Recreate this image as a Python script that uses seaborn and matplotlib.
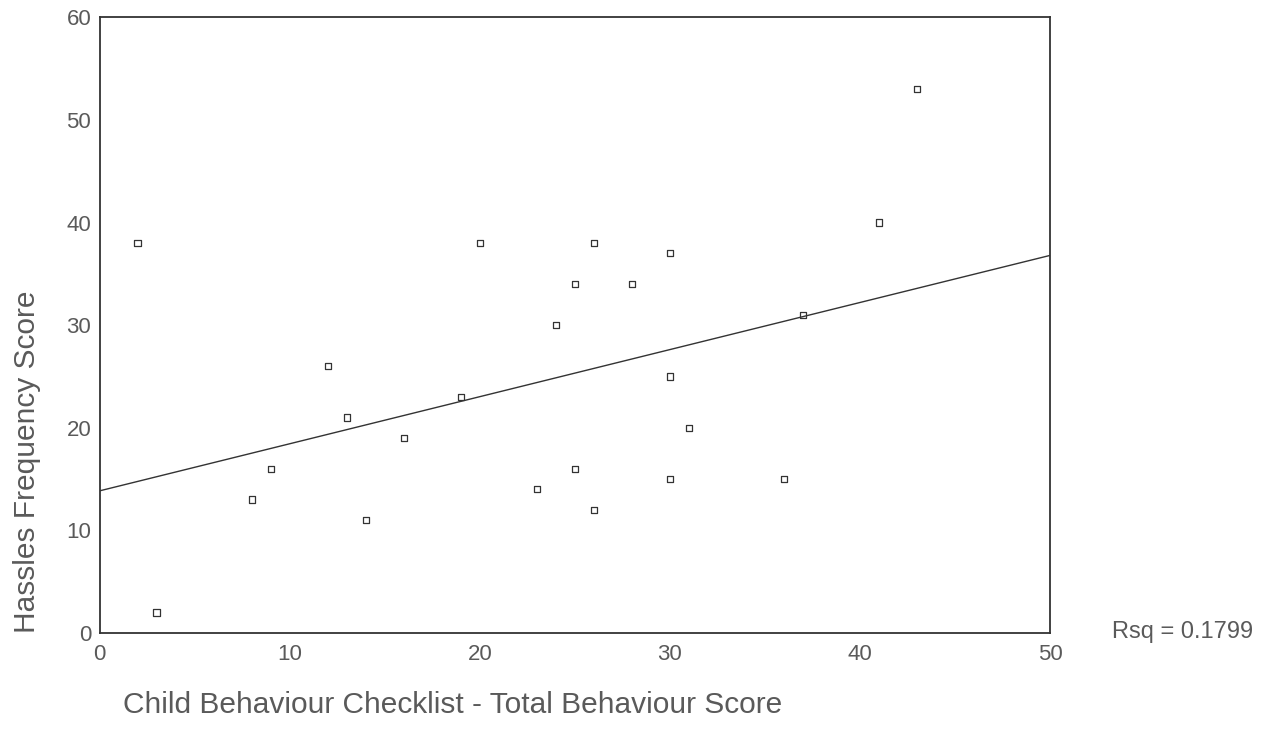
import matplotlib
matplotlib.use("Agg")
import matplotlib.pyplot as plt
import seaborn as sns
import pandas as pd

# scores
cbcl_total = [2, 3, 8, 9, 12, 13, 14, 16, 19, 20, 23, 24, 25, 25, 26, 26, 28,
              30, 30, 30, 31, 36, 37, 41, 43]
hassles_freq = [38, 2, 13, 16, 26, 21, 11, 19, 23, 38, 14, 30, 34, 16, 38, 12, 34,
                37, 25, 15, 20, 15, 31, 40, 53]
# fitted line as printed on the chart
fit_intercept = 13.85
fit_slope = 0.459
x_ticks = [0, 10, 20, 30, 40, 50]
y_ticks = [0, 10, 20, 30, 40, 50, 60]
rsq_label = "Rsq = 0.1799"

df = pd.DataFrame({"cbcl": cbcl_total, "hassles": hassles_freq})

sns.set_style("white")
plt.rcParams["font.family"] = ["Liberation Sans", "DejaVu Sans"]

txt = "#5a5a5a"
ink = "#333333"

fig = plt.figure(figsize=(12.76, 7.54), dpi=100)
ax = fig.add_axes([0.078, 0.1605, 0.745, 0.8165])
ax.set_xlim(0, 50)
ax.set_ylim(0, 60)

sns.scatterplot(data=df, x="cbcl", y="hassles", ax=ax, marker="s", s=20,
                facecolor="none", edgecolor=ink, linewidth=0.9)
ax.axline((0, fit_intercept), slope=fit_slope, color=ink, linewidth=1.0)

ax.set_xticks(x_ticks)
ax.set_yticks(y_ticks)
ax.tick_params(axis="both", labelsize=16, labelcolor=txt, color=ink,
               direction="out", length=4, width=1.5, pad=2)
ax.tick_params(axis="x", length=0, pad=8)
for sp in ax.spines.values():
    sp.set_color(ink)
    sp.set_linewidth(1.3)

ax.set_xlabel("Child Behaviour Checklist - Total Behaviour Score",
              fontsize=21.5, color=txt)
ax.set_ylabel("Hassles Frequency Score", fontsize=21.5, color=txt)
ax.xaxis.set_label_coords(0.371, -0.094)
ax.yaxis.set_label_coords(-0.062, 0.278)

fig.text(1112 / 1276, 1 - 632 / 754, rsq_label, fontsize=17, color=txt,
         ha="left", va="center")

fig.savefig("out.png", dpi=100)
